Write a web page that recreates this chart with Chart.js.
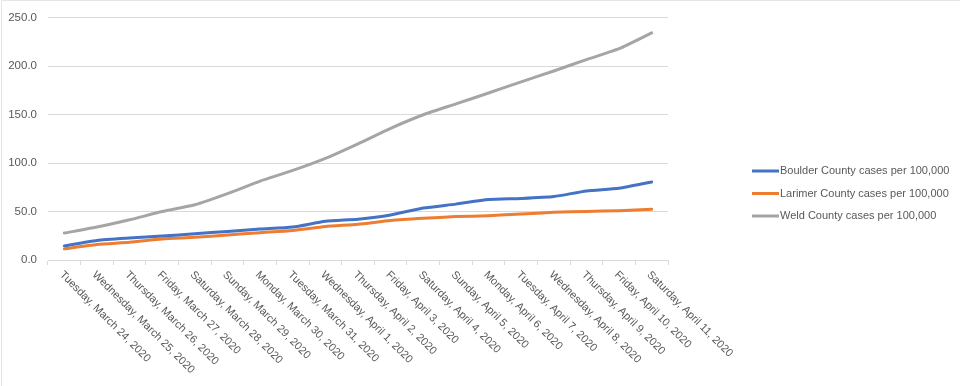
<!DOCTYPE html>
<html>
<head>
<meta charset="utf-8">
<script src="https://cdn.jsdelivr.net/npm/chart.js@4.4.1/dist/chart.umd.min.js"></script>
<style>
    html, body {margin: 0; padding: 0; background: #fff;}
    #wrap {width: 960px; height: 386px; position: relative;}
</style>
</head>
<body>
<div id="wrap"><canvas id="casesChart"></canvas></div>
<script>
const dates = [
    "Tuesday, March 24, 2020", "Wednesday, March 25, 2020", "Thursday, March 26, 2020",
    "Friday, March 27, 2020", "Saturday, March 28, 2020", "Sunday, March 29, 2020",
    "Monday, March 30, 2020", "Tuesday, March 31, 2020", "Wednesday, April 1, 2020",
    "Thursday, April 2, 2020", "Friday, April 3, 2020", "Saturday, April 4, 2020",
    "Sunday, April 5, 2020", "Monday, April 6, 2020", "Tuesday, April 7, 2020",
    "Wednesday, April 8, 2020", "Thursday, April 9, 2020", "Friday, April 10, 2020",
    "Saturday, April 11, 2020"
];
const boulder = [14.6, 20.2, 22.7, 24.7, 27.2, 29.5, 31.9, 34.0, 40.0, 42.2, 46.5, 53.6, 57.7, 62.4, 63.5, 65.5, 71.3, 74.0, 80.6];
const larimer = [11.5, 16.0, 18.3, 21.7, 23.4, 25.8, 28.2, 30.5, 34.6, 37.0, 40.7, 43.0, 44.8, 45.8, 47.5, 49.2, 50.2, 50.9, 52.4];
const weld = [27.8, 34.0, 41.5, 50.0, 57.0, 68.5, 81.5, 92.5, 105.0, 120.0, 136.0, 150.0, 161.2, 172.4, 184.0, 195.2, 207.0, 218.2, 234.5];
const seriesNames = [
    "Boulder County cases per 100,000",
    "Larimer County cases per 100,000",
    "Weld County cases per 100,000"
];
const seriesColors = ["#4472C4", "#ED7D31", "#A5A5A5"];
const yTicks = [0, 50, 100, 150, 200, 250];

const textColor = "#595959";
const gridColor = "#d9d9d9";
const fontFamily = "'Liberation Sans', Arial, sans-serif";

// x labels run down-right from each category, drawn off the x scale
const slantedLabels = {
    id: "slantedLabels",
    afterDraw(chart) {
        const {ctx, scales: {x}} = chart;
        ctx.save();
        ctx.font = "11px " + fontFamily;
        ctx.fillStyle = textColor;
        ctx.textAlign = "left";
        ctx.textBaseline = "middle";
        dates.forEach((d, i) => {
            const px = x.getPixelForValue(i);
            ctx.save();
            ctx.translate(px - 3, x.bottom + 8);
            ctx.rotate(Math.PI / 4);
            ctx.fillText(d, 0, 0);
            ctx.restore();
        });
        ctx.restore();
    }
};

const sideLegend = {
    id: "sideLegend",
    afterDraw(chart) {
        const {ctx} = chart;
        ctx.save();
        ctx.font = "11px " + fontFamily;
        ctx.textBaseline = "middle";
        ctx.textAlign = "left";
        chart.data.datasets.forEach((ds, i) => {
            const y = 171 + i * 22.5;
            ctx.strokeStyle = ds.borderColor;
            ctx.lineWidth = 3;
            ctx.beginPath();
            ctx.moveTo(752, y);
            ctx.lineTo(779, y);
            ctx.stroke();
            ctx.fillStyle = textColor;
            ctx.fillText(ds.label, 780, y);
        });
        // faint frame on the left and top
        ctx.strokeStyle = "#e4e4e4";
        ctx.lineWidth = 1;
        ctx.beginPath();
        ctx.moveTo(1.5, 386);
        ctx.lineTo(1.5, 0.5);
        ctx.lineTo(960, 0.5);
        ctx.stroke();
        ctx.restore();
    }
};

const datasets = [boulder, larimer, weld].map((values, i) => ({
    label: seriesNames[i],
    data: values,
    borderColor: seriesColors[i],
    backgroundColor: seriesColors[i],
    borderWidth: 3,
    pointRadius: 0,
    tension: 0.2,
    borderCapStyle: "round",
    borderJoinStyle: "round",
    fill: false,
    order: i
}));

new Chart(document.getElementById("casesChart"), {
    type: "line",
    data: {labels: dates, datasets: datasets},
    options: {
        responsive: true,
        maintainAspectRatio: false,
        animation: false,
        layout: {autoPadding: false, padding: {left: 0, top: 14, right: 292, bottom: 121}},
        plugins: {
            legend: {display: false},
            tooltip: {enabled: false}
        },
        scales: {
            x: {
                offset: true,
                grid: {offset: true, drawOnChartArea: false, tickLength: 5, color: gridColor},
                border: {color: gridColor},
                ticks: {display: false}
            },
            y: {
                min: 0,
                max: 250,
                afterBuildTicks: (axis) => {
                    axis.ticks = yTicks.map(v => ({value: v}));
                },
                afterFit: (axis) => {
                    axis.width = 48;
                },
                grid: {color: gridColor, drawTicks: false},
                border: {display: false},
                ticks: {
                    color: textColor,
                    padding: 11,
                    font: {family: fontFamily, size: 11.5},
                    callback: (v) => Number(v).toFixed(1)
                }
            }
        }
    },
    plugins: [slantedLabels, sideLegend]
});
</script>
</body>
</html>
